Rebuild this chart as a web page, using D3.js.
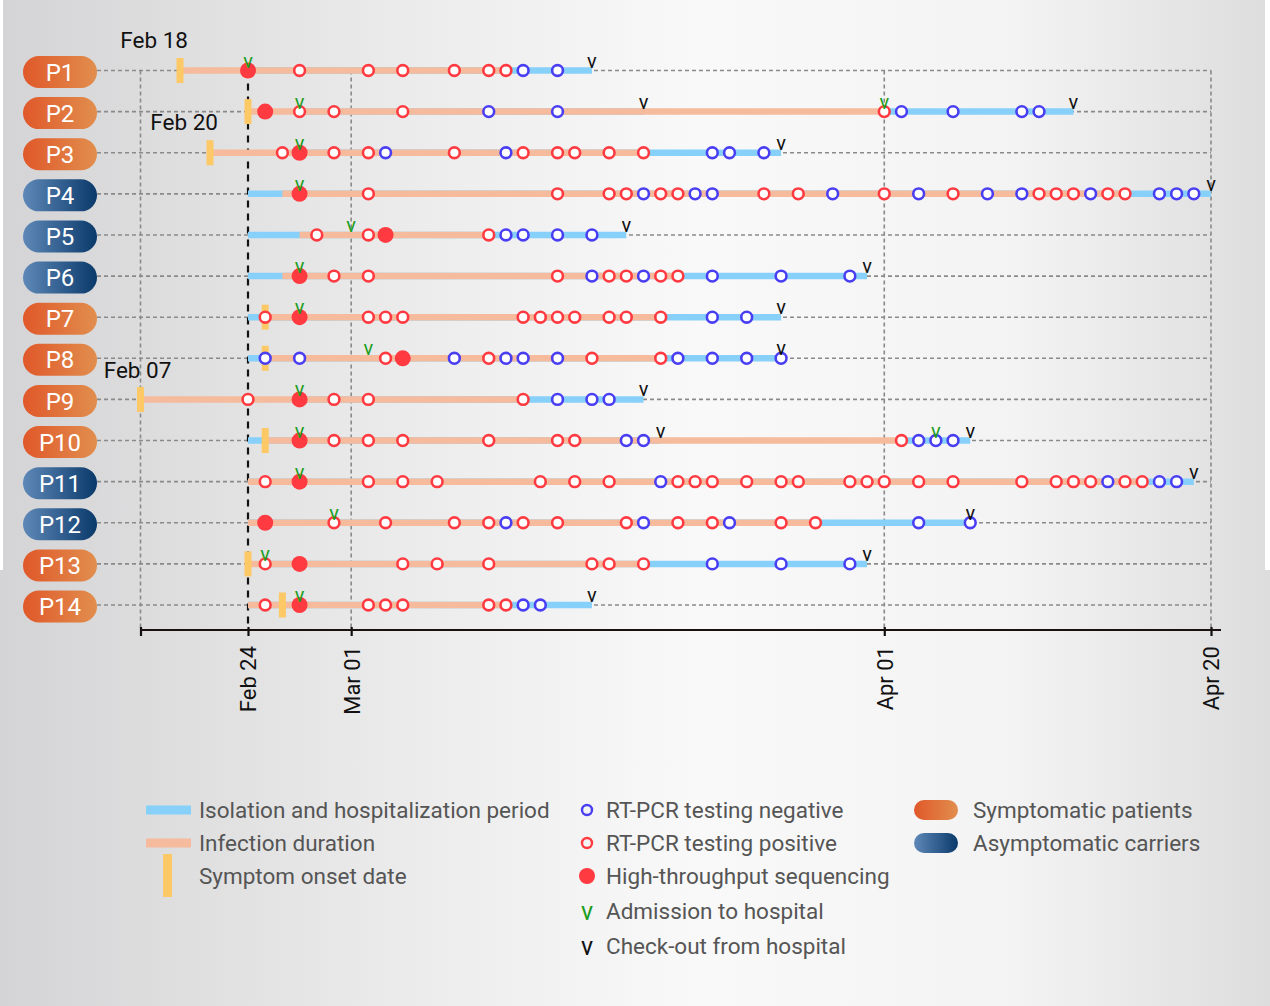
<!DOCTYPE html>
<html><head><meta charset="utf-8">
<script src="https://cdn.jsdelivr.net/npm/d3@7"></script>
<style>body{margin:0;background:#fff}svg{display:block}text{font-family:Roboto,"Noto Sans",sans-serif}</style>
</head><body><svg id="chart" width="1270" height="1006"></svg>
<script>
const patients = ["P1","P2","P3","P4","P5","P6","P7","P8","P9","P10","P11","P12","P13","P14"];
const symptomatic = [true,true,true,false,false,false,true,true,true,true,false,false,true,true];
const onset = ["02-18","02-24","02-20",null,null,null,"02-25","02-25","02-07","02-25",null,null,"02-24","02-26"];
const infection = [
 ["02-18","03-10"],["02-24","04-01"],["02-20","03-18"],["02-26","04-15"],["02-27","03-09"],
 ["02-26","03-20"],["02-25","03-19"],["02-25","03-19"],["02-07","03-11"],["02-25","04-02"],
 ["02-24","04-16"],["02-24","03-28"],["02-24","03-18"],["02-24","03-10"]
];
const isolation = [
 [["02-24","03-15"]],[["02-27","03-18"],["04-01","04-12"]],[["02-27","03-26"]],[["02-24","04-20"]],
 [["02-24","03-17"]],[["02-24","03-31"]],[["02-24","03-26"]],[["02-24","03-26"]],[["02-27","03-18"]],
 [["02-24","03-19"],["04-02","04-06"]],[["02-24","04-19"]],[["02-24","04-06"]],[["02-25","03-31"]],[["02-24","03-15"]]
];
const positive = [
 ["02-27","03-02","03-04","03-07","03-09","03-10"],
 ["02-27","02-29","03-04","04-01"],
 ["02-26","02-29","03-02","03-07","03-11","03-13","03-14","03-16","03-18"],
 ["03-02","03-13","03-16","03-17","03-19","03-20","03-25","03-27","04-01","04-05","04-10","04-11","04-12","04-14","04-15"],
 ["02-28","03-02","03-09"],
 ["02-29","03-02","03-13","03-16","03-17","03-19","03-20"],
 ["02-25","03-02","03-03","03-04","03-11","03-12","03-13","03-14","03-16","03-17","03-19"],
 ["03-03","03-09","03-15","03-19"],
 ["02-24","02-29","03-02","03-11"],
 ["02-29","03-02","03-04","03-09","03-13","03-14","04-02"],
 ["02-25","03-02","03-04","03-06","03-12","03-14","03-16","03-20","03-21","03-22","03-24","03-26","03-27","03-30","03-31","04-01","04-03","04-05","04-09","04-11","04-12","04-13","04-15","04-16"],
 ["02-29","03-03","03-07","03-09","03-11","03-13","03-17","03-20","03-22","03-26","03-28"],
 ["02-25","03-04","03-06","03-09","03-15","03-16","03-18"],
 ["02-25","03-02","03-03","03-04","03-09","03-10"]
];
const negative = [
 ["03-11","03-13"],
 ["03-09","03-13","04-02","04-05","04-09","04-10"],
 ["03-03","03-10","03-22","03-23","03-25"],
 ["03-18","03-21","03-22","03-29","04-03","04-07","04-09","04-13","04-17","04-18","04-19"],
 ["03-10","03-11","03-13","03-15"],
 ["03-15","03-18","03-22","03-26","03-30"],
 ["03-22","03-24"],
 ["02-25","02-27","03-07","03-10","03-11","03-13","03-20","03-22","03-24","03-26"],
 ["03-13","03-15","03-16"],
 ["03-17","03-18","04-03","04-04","04-05"],
 ["03-19","04-14","04-17","04-18"],
 ["03-10","03-18","03-23","04-03","04-06"],
 ["03-22","03-26","03-30"],
 ["03-11","03-12"]
];
const sequencing = [["02-24"],["02-25"],["02-27"],["02-27"],["03-03"],["02-27"],["02-27"],["03-04"],["02-27"],["02-27"],["02-27"],["02-25"],["02-27"],["02-27"]];
const admission = [["02-24"],["02-27","04-01"],["02-27"],["02-27"],["03-01"],["02-27"],["02-27"],["03-02"],["02-27"],["02-27","04-04"],["02-27"],["02-29"],["02-25"],["02-27"]];
const checkout = [["03-15"],["03-18","04-12"],["03-26"],["04-20"],["03-17"],["03-31"],["03-26"],["03-26"],["03-18"],["03-19","04-06"],["04-19"],["04-06"],["03-31"],["03-15"]];
const tickDates = ["02-07","02-24","03-01","04-01","04-20"];
const tickLabels = ["","Feb 24","Mar 01","Apr 01","Apr 20"];
const onsetNotes = [{p:"P1",date:"02-18",text:"Feb 18"},{p:"P3",date:"02-20",text:"Feb 20"},{p:"P9",date:"02-07",text:"Feb 07"}];
const legendCol1 = ["Isolation and hospitalization period","Infection duration","Symptom onset date"];
const legendCol2 = ["RT-PCR testing negative","RT-PCR testing positive","High-throughput sequencing","Admission to hospital","Check-out from hospital"];
const legendCol3 = ["Symptomatic patients","Asymptomatic carriers"];

const C = {blueBar:"#87d0fa",pink:"#f6ba9c",yellow:"#fdc866",red:"#ff3a40",blue:"#4a3ef2",green:"#1d9e1d",grid:"#8a8a8a",text:"#555"};
const P = s => d3.utcParse("%Y-%m-%d")("2020-"+s);

const svg = d3.select("#chart");
const defs = svg.append("defs");
const bg = defs.append("linearGradient").attr("id","bg").attr("gradientUnits","userSpaceOnUse")
  .attr("x1",0).attr("x2",1270).attr("y1",0).attr("y2",0);
[[0,"#d4d4d6"],[0.3,"#eaeaea"],[0.55,"#f9f9f9"],[0.8,"#f3f3f3"],[1,"#dddddd"]]
  .forEach(([o,c])=>bg.append("stop").attr("offset",o).attr("stop-color",c));
const gS = defs.append("linearGradient").attr("id","gSym");
gS.append("stop").attr("offset",0).attr("stop-color","#e0582a");
gS.append("stop").attr("offset",1).attr("stop-color","#e18e4e");
const gA = defs.append("linearGradient").attr("id","gAsym");
gA.append("stop").attr("offset",0).attr("stop-color","#5e88b8");
gA.append("stop").attr("offset",1).attr("stop-color","#0a3a6a");

svg.append("rect").attr("x",3).attr("y",0).attr("width",1262).attr("height",570).attr("fill","url(#bg)");
svg.append("rect").attr("x",0).attr("y",570).attr("width",1270).attr("height",436).attr("fill","url(#bg)");

const x = d3.scaleUtc()
  .domain([P("02-07"),P("02-18"),P("02-20"),P("02-24"),P("04-20")])
  .range([140.5,180,210,248,1211]);
const y = d3.scalePoint().domain(patients).range([70.5,605]);
const axisY = 630;
const pillRight = 97;

svg.append("g").selectAll("line").data(patients).join("line")
  .attr("x1",pillRight).attr("x2",x(P("04-20"))).attr("y1",d=>y(d)).attr("y2",d=>y(d))
  .attr("stroke",C.grid).attr("stroke-width",1.6).attr("stroke-dasharray","4,3");
svg.append("g").selectAll("line").data(tickDates.filter(d=>d!=="02-24")).join("line")
  .attr("x1",d=>x(P(d))).attr("x2",d=>x(P(d))).attr("y1",y("P1")).attr("y2",axisY)
  .attr("stroke",C.grid).attr("stroke-width",1.6).attr("stroke-dasharray","4,3");

const ax = svg.append("g").attr("transform",`translate(0,${axisY})`)
  .call(d3.axisBottom(x).tickValues(tickDates.map(P)).tickSizeOuter(0).tickSize(6)
    .tickFormat((d,i)=>tickLabels[i]));
ax.select(".domain").remove();
ax.append("line").attr("x1",x(P("02-07"))).attr("x2",x(P("04-20"))+10).attr("y1",0).attr("y2",0)
  .attr("stroke","#1a1010").attr("stroke-width",2.2);
ax.selectAll(".tick line").attr("y1",-3).attr("y2",6).attr("stroke","#111").attr("stroke-width",2.2);
ax.selectAll(".tick text").attr("transform","rotate(-90)").attr("text-anchor","end")
  .attr("x",-16).attr("y",0).attr("dy","0.36em").attr("fill","#111")
  .style("font-size","22px").style("font-family","Roboto, sans-serif");

svg.append("line").attr("x1",x(P("02-24"))).attr("x2",x(P("02-24"))).attr("y1",y("P1")).attr("y2",axisY)
  .attr("stroke","#111").attr("stroke-width",2.2).attr("stroke-dasharray","7,6");

const rowsData = patients.map((p,i)=>({p,i}));
const bars = svg.append("g");
patients.forEach((p,i)=>{
  isolation[i].forEach(([s,e])=>{
    bars.append("line").attr("x1",x(P(s))).attr("x2",x(P(e))).attr("y1",y(p)).attr("y2",y(p))
      .attr("stroke",C.blueBar).attr("stroke-width",6.5);
  });
});
patients.forEach((p,i)=>{
  const [s,e] = infection[i];
  bars.append("line").attr("x1",x(P(s))).attr("x2",x(P(e))).attr("y1",y(p)).attr("y2",y(p))
    .attr("stroke",C.pink).attr("stroke-width",6.5);
});
svg.append("g").selectAll("rect").data(rowsData.filter(d=>onset[d.i])).join("rect")
  .attr("x",d=>x(P(onset[d.i]))-3.5).attr("y",d=>y(d.p)-12.5).attr("width",7).attr("height",25)
  .attr("fill",C.yellow);

const pts = svg.append("g");
patients.forEach((p,i)=>{
  negative[i].forEach(d=>pts.append("circle").attr("cx",x(P(d))).attr("cy",y(p)).attr("r",5.4)
    .attr("fill","#fff").attr("stroke",C.blue).attr("stroke-width",2.6));
  positive[i].forEach(d=>pts.append("circle").attr("cx",x(P(d))).attr("cy",y(p)).attr("r",5.4)
    .attr("fill","#fff").attr("stroke",C.red).attr("stroke-width",2.6));
  sequencing[i].forEach(d=>pts.append("circle").attr("cx",x(P(d))).attr("cy",y(p)).attr("r",8)
    .attr("fill",C.red));
  admission[i].forEach(d=>pts.append("text").attr("x",x(P(d))).attr("y",y(p)-3).attr("text-anchor","middle")
    .attr("fill",C.green).style("font-size","20px").text("v"));
  checkout[i].forEach(d=>pts.append("text").attr("x",x(P(d))).attr("y",y(p)-3).attr("text-anchor","middle")
    .attr("fill","#111").style("font-size","20px").text("v"));
});

const pills = svg.append("g").selectAll("g").data(rowsData).join("g")
  .attr("transform",d=>`translate(${pillRight-74},${y(d.p)-14.5})`);
pills.append("rect").attr("width",74).attr("height",32).attr("rx",16)
  .attr("fill",d=>symptomatic[d.i]?"url(#gSym)":"url(#gAsym)");
pills.append("text").attr("x",37).attr("y",16).attr("dy","0.36em").attr("text-anchor","middle")
  .attr("fill","#fff").style("font-size","24px").text(d=>d.p);

const noteOffsets = {"P1":[8,-23,"end"],"P3":[8,-23,"end"],"P9":[-3,-21,"middle"]};
svg.append("g").selectAll("text").data(onsetNotes).join("text")
  .attr("x",d=>x(P(d.date))+noteOffsets[d.p][0]).attr("y",d=>y(d.p)+noteOffsets[d.p][1])
  .attr("text-anchor",d=>noteOffsets[d.p][2]).attr("fill","#111").style("font-size","22.5px").text(d=>d.text);

const lg = svg.append("g");
const lRow = [810,843,876,911,946];
const lfs = "22.5px";
lg.append("rect").attr("x",146).attr("y",lRow[0]-4.5).attr("width",45).attr("height",9).attr("fill",C.blueBar);
lg.append("rect").attr("x",146).attr("y",lRow[1]-4.5).attr("width",45).attr("height",9).attr("fill",C.pink);
lg.append("rect").attr("x",163).attr("y",854).attr("width",9).attr("height",43).attr("fill",C.yellow);
legendCol1.forEach((t,i)=>lg.append("text").attr("x",199).attr("y",lRow[i]).attr("dy","0.36em")
  .attr("fill",C.text).style("font-size",lfs).text(t));
lg.append("circle").attr("cx",587).attr("cy",lRow[0]).attr("r",5).attr("fill","none").attr("stroke",C.blue).attr("stroke-width",2.4);
lg.append("circle").attr("cx",587).attr("cy",lRow[1]).attr("r",5).attr("fill","none").attr("stroke",C.red).attr("stroke-width",2.4);
lg.append("circle").attr("cx",587).attr("cy",lRow[2]).attr("r",8).attr("fill",C.red);
lg.append("text").attr("x",587).attr("y",lRow[3]+9).attr("text-anchor","middle").attr("fill",C.green).style("font-size","25px").text("v");
lg.append("text").attr("x",587).attr("y",lRow[4]+9).attr("text-anchor","middle").attr("fill","#111").style("font-size","25px").text("v");
legendCol2.forEach((t,i)=>lg.append("text").attr("x",606).attr("y",lRow[i]).attr("dy","0.36em")
  .attr("fill",C.text).style("font-size",lfs).text(t));
lg.append("rect").attr("x",914).attr("y",lRow[0]-10).attr("width",44).attr("height",20).attr("rx",10).attr("fill","url(#gSym)");
lg.append("rect").attr("x",914).attr("y",lRow[1]-10).attr("width",44).attr("height",20).attr("rx",10).attr("fill","url(#gAsym)");
legendCol3.forEach((t,i)=>lg.append("text").attr("x",973).attr("y",lRow[i]).attr("dy","0.36em")
  .attr("fill",C.text).style("font-size",lfs).text(t));
</script>
</body></html>
